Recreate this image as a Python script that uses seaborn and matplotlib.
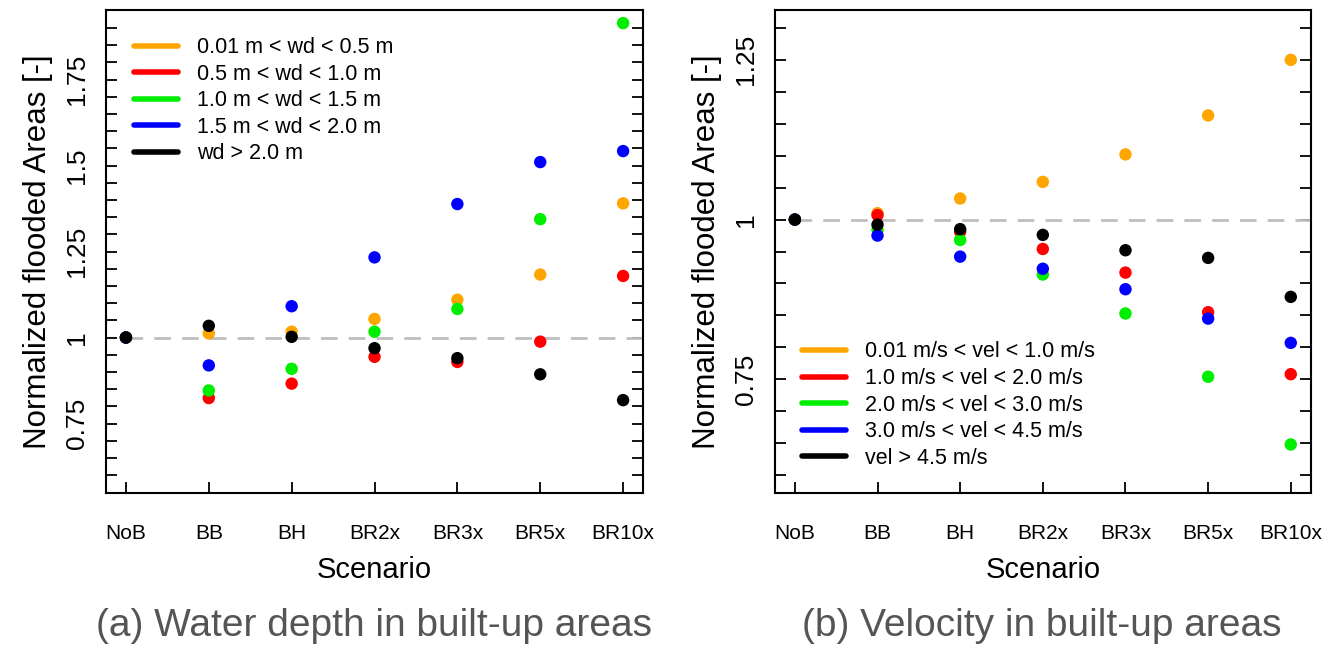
import numpy as np
import pandas as pd
import matplotlib
matplotlib.use("Agg")
import matplotlib.pyplot as plt
import seaborn as sns
from matplotlib.lines import Line2D

# Data
scenarios = ["NoB", "BB", "BH", "BR2x", "BR3x", "BR5x", "BR10x"]

depth_classes = ["0.01 m < wd < 0.5 m", "0.5 m < wd < 1.0 m", "1.0 m < wd < 1.5 m",
                 "1.5 m < wd < 2.0 m", "wd > 2.0 m"]
depth_orange = [1.0, 1.012, 1.017, 1.054, 1.110, 1.183, 1.390]
depth_red = [1.0, 0.824, 0.866, 0.944, 0.929, 0.988, 1.179]
depth_green = [1.0, 0.846, 0.909, 1.017, 1.083, 1.344, 1.914]
depth_blue = [1.0, 0.919, 1.091, 1.233, 1.388, 1.510, 1.542]
depth_black = [1.0, 1.034, 1.002, 0.969, 0.940, 0.893, 0.818]

vel_classes = ["0.01 m/s < vel < 1.0 m/s", "1.0 m/s < vel < 2.0 m/s", "2.0 m/s < vel < 3.0 m/s",
               "3.0 m/s < vel < 4.5 m/s", "vel > 4.5 m/s"]
vel_orange = [1.0, 1.010, 1.033, 1.059, 1.102, 1.163, 1.250]
vel_red = [1.0, 1.007, 0.981, 0.954, 0.917, 0.855, 0.758]
vel_green = [1.0, 0.984, 0.968, 0.914, 0.853, 0.754, 0.648]
vel_blue = [1.0, 0.975, 0.942, 0.923, 0.891, 0.845, 0.807]
vel_black = [1.0, 0.992, 0.985, 0.976, 0.952, 0.940, 0.879]

colors = ["#FFA500", "#FF0000", "#00EE00", "#0000FF", "#000000"]

ytick_labels = {0.75: "0.75", 1.0: "1", 1.25: "1.25", 1.5: "1.5", 1.75: "1.75"}

captions = ["(a) Water depth in built-up areas", "(b) Velocity in built-up areas"]


def long_table(classes, series):
    rows = []
    for cls, vals in zip(classes, series):
        for i, v in enumerate(vals):
            rows.append({"x": i, "value": v, "cls": cls})
    return pd.DataFrame(rows)


sns.set_style("white")
plt.rcParams["font.family"] = ["Liberation Sans", "DejaVu Sans"]
plt.rcParams["text.color"] = "black"
plt.rcParams["axes.labelcolor"] = "black"
plt.rcParams["xtick.color"] = "black"
plt.rcParams["ytick.color"] = "black"

fig = plt.figure(figsize=(13.39, 6.47), dpi=100)
ax1 = fig.add_axes([0.0792, 0.238, 0.401, 0.7465])
ax2 = fig.add_axes([0.5788, 0.238, 0.400, 0.7465])

panels = [
    (ax1, long_table(depth_classes, [depth_orange, depth_red, depth_green, depth_blue, depth_black]),
     depth_classes, (0.6, 1.9), "upper left", (0.052, 0.944)),
    (ax2, long_table(vel_classes, [vel_orange, vel_red, vel_green, vel_blue, vel_black]),
     vel_classes, (0.6, 1.3), "lower left", (0.050, 0.050)),
]

for ax, df, classes, (lo, hi), loc, anchor in panels:
    ext_y = (hi - lo) * 0.04
    ax.plot([0, 6.3], [1, 1], color="#BEBEBE", lw=2, dashes=(6, 4), zorder=1)
    sns.scatterplot(data=df, x="x", y="value", hue="cls", hue_order=classes,
                    palette=colors, s=80, edgecolor="none", legend=False, ax=ax, zorder=3)
    ax.set_xlim(-0.24, 6.24)
    ax.set_ylim(lo - ext_y, hi + ext_y)

    yt = np.round(np.arange(lo, hi + 0.001, 0.05), 2)
    ax.set_yticks(yt)
    ax.set_yticklabels([ytick_labels.get(v, "") for v in yt], rotation=90, va="center")
    ax.set_xticks(range(len(scenarios)))
    ax.set_xticklabels(scenarios)

    ax.tick_params(axis="y", direction="in", length=8, width=1.3, left=True, right=True,
                   labelsize=19, pad=12)
    ax.tick_params(axis="x", direction="in", length=8, width=1.3, bottom=True,
                   labelsize=15, pad=22)
    for sp in ax.spines.values():
        sp.set_color("black")
        sp.set_linewidth(1.5)

    ax.set_xlabel("Scenario", fontsize=21, labelpad=10)
    ax.set_ylabel("Normalized flooded Areas [-]", fontsize=22.5, labelpad=9)

    handles = [Line2D([0], [0], color=c, lw=4) for c in colors]
    ax.legend(handles, classes, loc=loc, bbox_to_anchor=anchor, frameon=False,
              fontsize=15.5, handlelength=2.05, handletextpad=0.87, labelspacing=0.26,
              borderpad=0, borderaxespad=0)

fig.text(0.279, 0.032, captions[0], ha="center", va="center", fontsize=28, color="#555555")
fig.text(0.778, 0.032, captions[1], ha="center", va="center", fontsize=28, color="#555555")

fig.savefig("out.png", dpi=100)
